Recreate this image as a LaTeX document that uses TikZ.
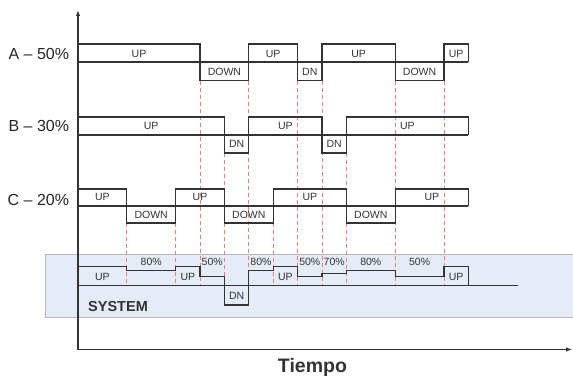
\documentclass[tikz,border=0pt]{standalone}
\usepackage{fontspec}
\setmainfont{Liberation Sans}
\usepackage{xcolor}
\usepackage{tikz}
\usetikzlibrary{positioning, arrows.meta}
\definecolor{SigColor}{HTML}{333333}
\definecolor{CutColor}{HTML}{F27C7C}
\definecolor{BandColor}{HTML}{E5ECF7}
\definecolor{BandBorder}{HTML}{B4B8BE}
\tikzset{
    signal/.style={
        draw=SigColor,
        line width=1.3pt,
        line join=miter
    },
    cut/.style={draw=CutColor, line width=0.9pt, dash pattern=on 4pt off 3pt},
    axis/.style={draw=SigColor, line width=1.6pt, {Latex[length=6pt,width=4.5pt]}-{Latex[length=6pt,width=4.5pt]}},
    band/.style={fill=BandColor, draw=BandBorder, line width=0.8pt},
    state/.style={inner sep=0pt, text=SigColor, font=\fontsize{10.5}{12}\selectfont},
    lane/.style={inner sep=0pt, anchor=east, text=black!85, font=\fontsize{16}{18}\selectfont},
    title/.style={inner sep=0pt, text=SigColor, font=\bfseries}
}

\begin{document}
\begin{tikzpicture}[x=24.4pt, y=-1pt]
\useasboundingbox (-3.197,0) rectangle (20.287,379);

% System band
\draw[band] (-1.352,254) rectangle (20.5,317);

% Cut lines
\foreach \t/\y in {2/223, 4/223, 5/80.7, 6/153, 7/80.7, 8/223, 9/80.7, 10/80.7, 11/153, 13/80.7, 15/80.7}
    \draw[cut] (\t,\y) -- (\t,285.7);

% Axes
\coordinate (origin) at (0,349.5);
\coordinate (ytop) at (0,10);
\coordinate (xend) at (20.25,349.5);
\draw[axis] (ytop) -- (origin) -- (xend);

% A - 50%
\node[lane] (laneA) at (-0.357,54) {A – 50\%};
\draw[signal] (0,62) -- (16,62);
\draw[signal] (0,44) -| (5,80.7) -| (7,44) -| (9,80.7) -| (10,44) -| (13,80.7) -| (15,44) -| (16,62);
\foreach \x [count=\i] in {2.5, 8, 11.5, 15.5}
    \node[state] (aup\i) at (\x,53.8) {UP};
\foreach \x/\txt [count=\i] in {6/DOWN, 9.5/DN, 14/DOWN}
    \node[state] (adn\i) at (\x,71.7) {\txt};

% B - 30%
\node[lane] (laneB) at (-0.357,126.2) {B – 30\%};
\draw[signal] (0,135) -- (16,135);
\draw[signal] (0,117) -| (6,153) -| (7,117) -| (10,153) -| (11,117) -| (16,135);
\foreach \x [count=\i] in {3, 8.5, 13.5}
    \node[state] (bup\i) at (\x,125.8) {UP};
\foreach \x [count=\i] in {6.5, 10.5}
    \node[state] (bdn\i) at (\x,144) {DN};

% C - 20%
\node[lane] (laneC) at (-0.357,200.3) {C – 20\%};
\draw[signal] (0,206) -- (16,206);
\draw[signal] (0,189) -| (2,223) -| (4,189) -| (6,223) -| (8,189) -| (11,223) -| (13,189) -| (16,206);
\foreach \x [count=\i] in {1, 5, 9.5, 14.5}
    \node[state] (cup\i) at (\x,196.8) {UP};
\foreach \x [count=\i] in {3, 7, 12}
    \node[state] (cdn\i) at (\x,214.7) {DOWN};

% System
\draw[signal] (0,285.7) -- (18.03,285.7);
\draw[signal] (0,266.7) -| (2,270.7) -| (4,266.7) -| (5,276.7) -| (6,305) -| (7,270.7) -| (8,266.7) -| (9,276.7) -| (10,273.3) -| (11,270.7) -| (13,276.7) -| (15,266.7) -| (16,285.7);
\foreach \x [count=\i] in {1, 4.5, 8.5, 15.5}
    \node[state] (sup\i) at (\x,277) {UP};
\foreach \x/\txt [count=\i] in {3/80, 5.5/50, 7.5/80, 9.5/50, 10.5/70, 12/80, 14/50}
    \node[state] (sval\i) at (\x,262.3) {\txt\%};
\node[state] (sdn) at (6.5,295.7) {DN};
\node[title, anchor=west, font=\fontsize{14.5}{16}\selectfont\bfseries] (sysTitle) at (0.41,307) {SYSTEM};

% Tiempo
\node[title, anchor=base, font=\fontsize{19.5}{22}\selectfont\bfseries] (tiempo) at (9.61,372.6) {Tiempo};

\end{tikzpicture}
\end{document}
